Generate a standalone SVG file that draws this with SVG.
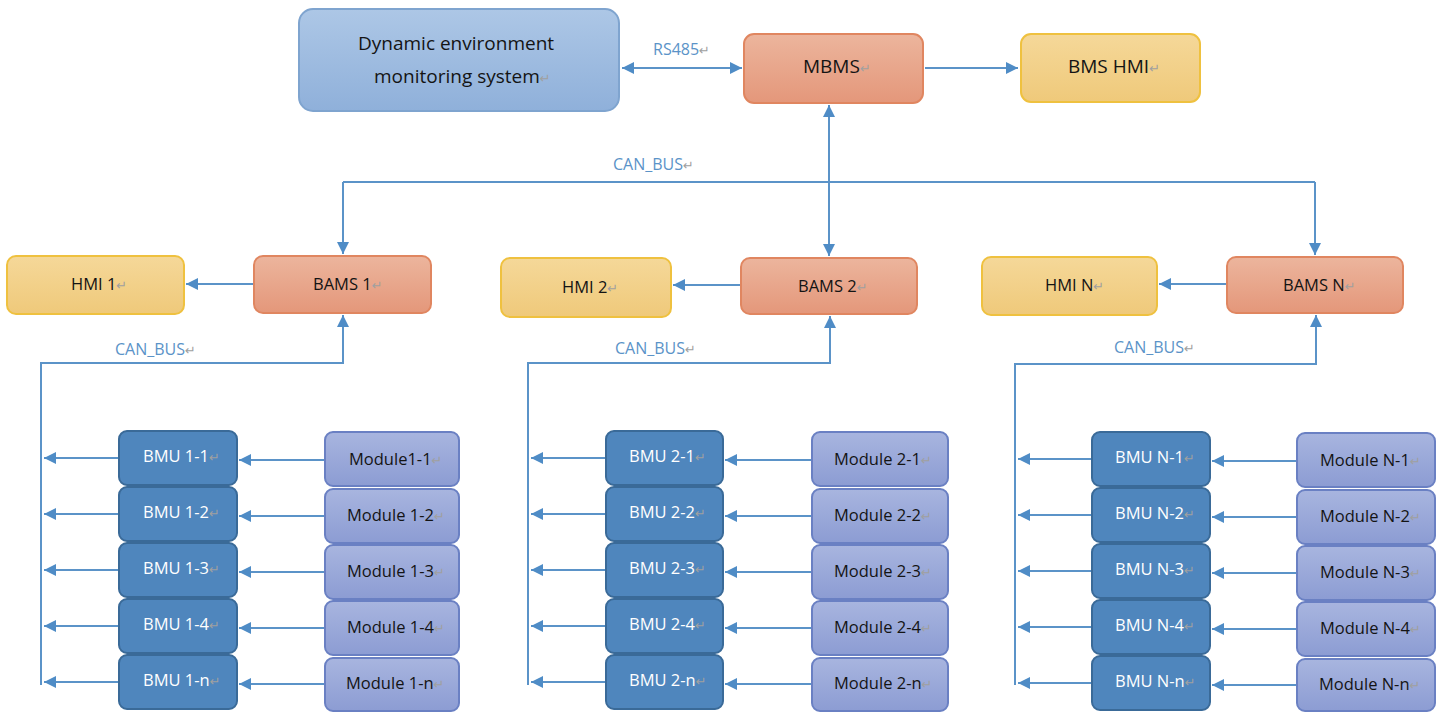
<svg xmlns="http://www.w3.org/2000/svg" width="1443" height="712" viewBox="0 0 1443 712">
<style>
text{font-family:"Open Sans","Liberation Sans",sans-serif;fill:#141414}
.pm{font-family:"DejaVu Sans",sans-serif;fill:#a0a0a0;font-size:13px}
.big{font-size:19px}
.mid{font-size:16.5px}
.sm{font-size:16.5px}
.lbl{fill:#5b93c8;font-size:16px}
.wt{fill:#ffffff}
.env{fill:url(#gEnv);stroke:#7fa4cf;stroke-width:2}
.org{fill:url(#gOrg);stroke:#e08660;stroke-width:2}
.yel{fill:url(#gYel);stroke:#efc13f;stroke-width:2}
.bmu{fill:#4f86bd;stroke:#3a6a98;stroke-width:2}
.mod{fill:url(#gMod);stroke:#6a80c3;stroke-width:2}
.c{fill:none;stroke:#5b93c8;stroke-width:2}
.a{marker-end:url(#ah)}
.aa{marker-end:url(#ah);marker-start:url(#ah)}
</style>
<defs>
<linearGradient id="gEnv" x1="0" y1="0" x2="0" y2="1"><stop offset="0" stop-color="#adc7e6"/><stop offset="1" stop-color="#8fb0da"/></linearGradient>
<linearGradient id="gOrg" x1="0" y1="0" x2="0" y2="1"><stop offset="0" stop-color="#ecb59d"/><stop offset="1" stop-color="#e4977a"/></linearGradient>
<linearGradient id="gYel" x1="0" y1="0" x2="0" y2="1"><stop offset="0" stop-color="#f5d899"/><stop offset="1" stop-color="#efc97a"/></linearGradient>
<linearGradient id="gMod" x1="0" y1="0" x2="0" y2="1"><stop offset="0" stop-color="#a8b5df"/><stop offset="1" stop-color="#8c9cd3"/></linearGradient>
<marker id="ah" markerUnits="userSpaceOnUse" markerWidth="14" markerHeight="12" refX="12" refY="6" orient="auto-start-reverse"><path d="M0,0 L12,6 L0,12 z" fill="#4f8cc6"/></marker>
</defs>

<g id="connectors">
<path class="c aa" d="M622,68 H742"/>
<path class="c a" d="M925,68 H1018"/>
<path class="c aa" d="M829,105 V256"/>
<path class="c" d="M343,182 H1315"/>
<path class="c a" d="M343,182 V254"/>
<path class="c a" d="M1315,182 V255"/>
<path class="c a" d="M254,284 H186"/>
<path class="c a" d="M741,285 H673"/>
<path class="c a" d="M1227,284 H1159"/>
<path class="c a" d="M41,685 V363 H343 V315"/>
<path class="c a" d="M528,685 V363 H830 V316"/>
<path class="c a" d="M1015,685 V364 H1316 V315"/>
<path class="c a" d="M119,458 H44"/><path class="c a" d="M119,514 H44"/><path class="c a" d="M119,570 H44"/><path class="c a" d="M119,626 H44"/><path class="c a" d="M119,682 H44"/>
<path class="c a" d="M325,460 H239"/><path class="c a" d="M325,516 H239"/><path class="c a" d="M325,572 H239"/><path class="c a" d="M325,628 H239"/><path class="c a" d="M325,684 H239"/>
<path class="c a" d="M606,458 H531"/><path class="c a" d="M606,514 H531"/><path class="c a" d="M606,570 H531"/><path class="c a" d="M606,626 H531"/><path class="c a" d="M606,682 H531"/>
<path class="c a" d="M812,460 H725"/><path class="c a" d="M812,516 H725"/><path class="c a" d="M812,572 H725"/><path class="c a" d="M812,628 H725"/><path class="c a" d="M812,684 H725"/>
<path class="c a" d="M1092,459 H1018"/><path class="c a" d="M1092,515 H1018"/><path class="c a" d="M1092,571 H1018"/><path class="c a" d="M1092,627 H1018"/><path class="c a" d="M1092,683 H1018"/>
<path class="c a" d="M1297,461 H1212"/><path class="c a" d="M1297,517 H1212"/><path class="c a" d="M1297,573 H1212"/><path class="c a" d="M1297,629 H1212"/><path class="c a" d="M1297,685 H1212"/>
<text class="lbl" x="653" y="55">RS485<tspan class="pm">↵</tspan></text>
<text class="lbl" x="613" y="170">CAN_BUS<tspan class="pm">↵</tspan></text>
<text class="lbl" x="115" y="355">CAN_BUS<tspan class="pm">↵</tspan></text>
<text class="lbl" x="615" y="354">CAN_BUS<tspan class="pm">↵</tspan></text>
<text class="lbl" x="1114" y="353">CAN_BUS<tspan class="pm">↵</tspan></text>
</g>

<g id="env"><rect class="env" x="299" y="9" width="320" height="102" rx="14"/>
<text class="big" x="358" y="50">Dynamic environment</text><text class="big" x="374" y="83">monitoring system<tspan class="pm">↵</tspan></text></g>
<g id="mbms"><rect class="org" x="744" y="34" width="179" height="69" rx="10"/><text class="big" x="803" y="73">MBMS<tspan class="pm">↵</tspan></text></g>
<g id="bmshmi"><rect class="yel" x="1021" y="34" width="179" height="68" rx="10"/><text class="big" x="1068" y="73">BMS HMI<tspan class="pm">↵</tspan></text></g>

<g id="hmi1"><rect class="yel" x="7" y="256" width="177" height="58" rx="9"/><text class="mid" x="71" y="290">HMI 1<tspan class="pm">↵</tspan></text></g>
<g id="bams1"><rect class="org" x="254" y="256" width="177" height="57" rx="9"/><text class="mid" x="313" y="290">BAMS 1<tspan class="pm">↵</tspan></text></g>
<g id="hmi2"><rect class="yel" x="501" y="258" width="170" height="59" rx="9"/><text class="mid" x="562" y="293">HMI 2<tspan class="pm">↵</tspan></text></g>
<g id="bams2"><rect class="org" x="741" y="258" width="176" height="56" rx="9"/><text class="mid" x="798" y="292">BAMS 2<tspan class="pm">↵</tspan></text></g>
<g id="hmiN"><rect class="yel" x="982" y="257" width="175" height="58" rx="9"/><text class="mid" x="1045" y="291">HMI N<tspan class="pm">↵</tspan></text></g>
<g id="bamsN"><rect class="org" x="1227" y="257" width="176" height="56" rx="9"/><text class="mid" x="1283" y="291">BAMS N<tspan class="pm">↵</tspan></text></g>

<g id="bmu1-1"><rect class="bmu" x="119" y="431" width="118" height="54" rx="8"/><text class="sm wt" x="143" y="462">BMU 1-1<tspan class="pm">↵</tspan></text></g>
<g id="bmu1-2"><rect class="bmu" x="119" y="487" width="118" height="54" rx="8"/><text class="sm wt" x="143" y="518">BMU 1-2<tspan class="pm">↵</tspan></text></g>
<g id="bmu1-3"><rect class="bmu" x="119" y="543" width="118" height="54" rx="8"/><text class="sm wt" x="143" y="574">BMU 1-3<tspan class="pm">↵</tspan></text></g>
<g id="bmu1-4"><rect class="bmu" x="119" y="599" width="118" height="54" rx="8"/><text class="sm wt" x="143" y="630">BMU 1-4<tspan class="pm">↵</tspan></text></g>
<g id="bmu1-n"><rect class="bmu" x="119" y="655" width="118" height="54" rx="8"/><text class="sm wt" x="143" y="686">BMU 1-n<tspan class="pm">↵</tspan></text></g>
<g id="mod1-1"><rect class="mod" x="325" y="432" width="134" height="54" rx="8"/><text class="sm" x="349" y="465">Module1-1<tspan class="pm">↵</tspan></text></g>
<g id="mod1-2"><rect class="mod" x="325" y="489" width="134" height="54" rx="8"/><text class="sm" x="347" y="521">Module 1-2<tspan class="pm">↵</tspan></text></g>
<g id="mod1-3"><rect class="mod" x="325" y="545" width="134" height="54" rx="8"/><text class="sm" x="347" y="577">Module 1-3<tspan class="pm">↵</tspan></text></g>
<g id="mod1-4"><rect class="mod" x="325" y="601" width="134" height="54" rx="8"/><text class="sm" x="347" y="633">Module 1-4<tspan class="pm">↵</tspan></text></g>
<g id="mod1-n"><rect class="mod" x="325" y="658" width="134" height="53" rx="8"/><text class="sm" x="346" y="689">Module 1-n<tspan class="pm">↵</tspan></text></g>

<g id="bmu2-1"><rect class="bmu" x="606" y="431" width="117" height="54" rx="8"/><text class="sm wt" x="629" y="462">BMU 2-1<tspan class="pm">↵</tspan></text></g>
<g id="bmu2-2"><rect class="bmu" x="606" y="487" width="117" height="54" rx="8"/><text class="sm wt" x="629" y="518">BMU 2-2<tspan class="pm">↵</tspan></text></g>
<g id="bmu2-3"><rect class="bmu" x="606" y="543" width="117" height="54" rx="8"/><text class="sm wt" x="629" y="574">BMU 2-3<tspan class="pm">↵</tspan></text></g>
<g id="bmu2-4"><rect class="bmu" x="606" y="599" width="117" height="54" rx="8"/><text class="sm wt" x="629" y="630">BMU 2-4<tspan class="pm">↵</tspan></text></g>
<g id="bmu2-n"><rect class="bmu" x="606" y="655" width="117" height="54" rx="8"/><text class="sm wt" x="629" y="686">BMU 2-n<tspan class="pm">↵</tspan></text></g>
<g id="mod2-1"><rect class="mod" x="812" y="432" width="136" height="54" rx="8"/><text class="sm" x="834" y="465">Module 2-1<tspan class="pm">↵</tspan></text></g>
<g id="mod2-2"><rect class="mod" x="812" y="489" width="136" height="54" rx="8"/><text class="sm" x="834" y="521">Module 2-2<tspan class="pm">↵</tspan></text></g>
<g id="mod2-3"><rect class="mod" x="812" y="545" width="136" height="54" rx="8"/><text class="sm" x="834" y="577">Module 2-3<tspan class="pm">↵</tspan></text></g>
<g id="mod2-4"><rect class="mod" x="812" y="601" width="136" height="54" rx="8"/><text class="sm" x="834" y="633">Module 2-4<tspan class="pm">↵</tspan></text></g>
<g id="mod2-n"><rect class="mod" x="812" y="658" width="136" height="53" rx="8"/><text class="sm" x="834" y="689">Module 2-n<tspan class="pm">↵</tspan></text></g>

<g id="bmuN-1"><rect class="bmu" x="1092" y="432" width="118" height="54" rx="8"/><text class="sm wt" x="1115" y="463">BMU N-1<tspan class="pm">↵</tspan></text></g>
<g id="bmuN-2"><rect class="bmu" x="1092" y="488" width="118" height="54" rx="8"/><text class="sm wt" x="1115" y="519">BMU N-2<tspan class="pm">↵</tspan></text></g>
<g id="bmuN-3"><rect class="bmu" x="1092" y="544" width="118" height="54" rx="8"/><text class="sm wt" x="1115" y="575">BMU N-3<tspan class="pm">↵</tspan></text></g>
<g id="bmuN-4"><rect class="bmu" x="1092" y="600" width="118" height="54" rx="8"/><text class="sm wt" x="1115" y="631">BMU N-4<tspan class="pm">↵</tspan></text></g>
<g id="bmuN-n"><rect class="bmu" x="1092" y="656" width="118" height="54" rx="8"/><text class="sm wt" x="1115" y="687">BMU N-n<tspan class="pm">↵</tspan></text></g>
<g id="modN-1"><rect class="mod" x="1297" y="433" width="138" height="54" rx="8"/><text class="sm" x="1320" y="466">Module N-1<tspan class="pm">↵</tspan></text></g>
<g id="modN-2"><rect class="mod" x="1297" y="490" width="138" height="54" rx="8"/><text class="sm" x="1320" y="522">Module N-2<tspan class="pm">↵</tspan></text></g>
<g id="modN-3"><rect class="mod" x="1297" y="546" width="138" height="54" rx="8"/><text class="sm" x="1320" y="578">Module N-3<tspan class="pm">↵</tspan></text></g>
<g id="modN-4"><rect class="mod" x="1297" y="602" width="138" height="54" rx="8"/><text class="sm" x="1320" y="634">Module N-4<tspan class="pm">↵</tspan></text></g>
<g id="modN-n"><rect class="mod" x="1297" y="659" width="138" height="52" rx="8"/><text class="sm" x="1319" y="690">Module N-n<tspan class="pm">↵</tspan></text></g>
</svg>
